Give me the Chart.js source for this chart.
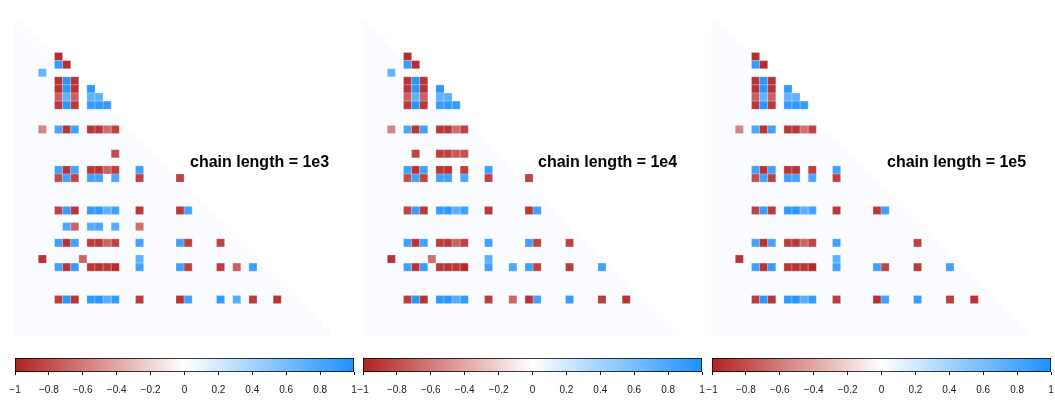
<!DOCTYPE html>
<html>
<head>
<meta charset="utf-8">
<script src="https://cdn.jsdelivr.net/npm/chart.js@4.4.0/dist/chart.umd.min.js"></script>
<style>
body{margin:0;background:#fff;width:1055px;height:400px;overflow:hidden;position:relative;font-family:"Liberation Sans",Arial,sans-serif;}
canvas{position:absolute;}
.lab{position:absolute;font-weight:bold;font-size:16px;line-height:16px;white-space:nowrap;color:#000;}
</style>
</head>
<body>
<canvas id="heat0" width="324" height="324" style="left:14px;top:12px"></canvas>
<canvas id="heat1" width="324" height="324" style="left:363px;top:12px"></canvas>
<canvas id="heat2" width="324" height="324" style="left:711px;top:12px"></canvas>
<canvas id="bar0" width="360" height="50" style="left:5px;top:350px"></canvas>
<canvas id="bar1" width="360" height="50" style="left:353px;top:350px"></canvas>
<canvas id="bar2" width="360" height="50" style="left:702px;top:350px"></canvas>
<div class="lab" style="left:190px;top:154px">chain length = 1e3</div>
<div class="lab" style="left:538px;top:154px">chain length = 1e4</div>
<div class="lab" style="left:887px;top:154px">chain length = 1e5</div>
<script>
// matrix size (parameters) and colour bar ticks
var nCells = 40;
var barTicks = [-1, -0.8, -0.6, -0.4, -0.2, 0, 0.2, 0.4, 0.6, 0.8, 1];

// cells: [row, col, correlation]
var cells1e3 = [
  [5,5,-0.95],
  [6,5,0.9],[6,6,-0.95],
  [7,3,0.68],
  [8,5,-0.92],[8,6,0.95],[8,7,-0.92],
  [9,5,-0.92],[9,6,0.95],[9,7,-0.92],[9,9,0.93],
  [10,5,-0.72],[10,6,0.7],[10,7,-0.72],[10,9,0.7],[10,10,0.72],
  [11,5,-0.9],[11,6,0.95],[11,7,-0.9],[11,9,0.9],[11,10,0.92],[11,11,0.9],
  [14,3,-0.55],[14,5,0.8],[14,6,-0.92],[14,7,0.85],[14,9,-0.9],[14,10,-0.9],[14,11,-0.65],[14,12,-0.85],
  [17,12,-0.8],
  [19,5,0.85],[19,6,-0.92],[19,7,0.85],[19,9,-0.9],[19,10,-0.92],[19,11,-0.7],[19,12,-0.88],[19,15,0.85],
  [20,5,-0.8],[20,6,0.85],[20,7,-0.85],[20,9,0.85],[20,10,0.85],[20,12,0.8],[20,15,-0.85],[20,20,-0.85],
  [24,5,-0.85],[24,6,0.9],[24,7,-0.9],[24,9,0.9],[24,10,0.92],[24,11,0.72],[24,12,0.85],[24,15,-0.9],[24,20,-0.9],[24,21,0.85],
  [26,6,0.8],[26,7,-0.7],[26,9,0.75],[26,10,0.8],[26,12,0.75],[26,15,-0.65],
  [28,5,0.85],[28,6,-0.92],[28,7,0.85],[28,9,-0.88],[28,10,-0.9],[28,11,-0.7],[28,12,-0.85],[28,15,0.85],[28,20,0.85],[28,21,-0.85],[28,25,-0.85],
  [30,3,-0.92],[30,8,-0.68],[30,15,0.7],
  [31,5,0.85],[31,6,-0.92],[31,7,0.9],[31,9,-0.9],[31,10,-0.92],[31,11,-0.9],[31,12,-0.97],[31,15,0.85],[31,20,0.85],[31,21,-0.85],[31,25,-0.88],[31,27,-0.72],[31,29,0.85],
  [35,5,-0.88],[35,6,0.95],[35,7,-0.92],[35,9,0.92],[35,10,0.95],[35,11,0.75],[35,12,0.9],[35,15,-0.88],[35,20,-0.92],[35,21,0.85],[35,25,0.9],[35,27,0.75],[35,29,-0.88],[35,32,-0.92]
];

var cells1e4 = [
  [5,5,-0.95],
  [6,5,0.9],[6,6,-0.95],
  [7,3,0.68],
  [8,5,-0.92],[8,6,0.95],[8,7,-0.92],
  [9,5,-0.92],[9,6,0.95],[9,7,-0.92],[9,9,0.93],
  [10,5,-0.72],[10,6,0.7],[10,7,-0.72],[10,9,0.7],[10,10,0.72],
  [11,5,-0.9],[11,6,0.95],[11,7,-0.9],[11,9,0.9],[11,10,0.92],[11,11,0.9],
  [14,3,-0.55],[14,5,0.8],[14,6,-0.92],[14,7,0.85],[14,9,-0.9],[14,10,-0.9],[14,11,-0.65],[14,12,-0.85],
  [17,6,-0.85],[17,9,-0.88],[17,10,-0.85],[17,11,-0.75],[17,12,-0.78],
  [19,5,0.85],[19,6,-0.92],[19,7,0.85],[19,9,-0.9],[19,10,-0.92],[19,12,-0.88],[19,15,0.85],
  [20,5,-0.8],[20,6,0.85],[20,7,-0.85],[20,9,0.85],[20,10,0.85],[20,12,0.8],[20,15,-0.85],[20,20,-0.85],
  [24,5,-0.85],[24,6,0.9],[24,7,-0.9],[24,9,0.9],[24,10,0.92],[24,11,0.72],[24,12,0.85],[24,15,-0.9],[24,20,-0.9],[24,21,0.85],
  [28,5,0.85],[28,6,-0.92],[28,7,0.85],[28,9,-0.88],[28,10,-0.9],[28,11,-0.7],[28,12,-0.85],[28,15,0.85],[28,20,0.85],[28,21,-0.85],[28,25,-0.85],
  [30,3,-0.92],[30,8,-0.65],[30,15,0.7],
  [31,5,0.85],[31,6,-0.92],[31,7,0.9],[31,9,-0.9],[31,10,-0.92],[31,11,-0.9],[31,12,-0.97],[31,15,0.85],[31,18,0.8],[31,20,0.85],[31,21,-0.85],[31,25,-0.88],[31,29,0.85],
  [35,5,-0.88],[35,6,0.95],[35,7,-0.92],[35,9,0.92],[35,10,0.95],[35,11,0.75],[35,12,0.9],[35,15,-0.88],[35,18,-0.68],[35,20,-0.92],[35,21,0.85],[35,25,0.9],[35,29,-0.88],[35,32,-0.92]
];

var cells1e5 = [
  [5,5,-0.95],
  [6,5,0.9],[6,6,-0.95],
  [8,5,-0.92],[8,6,0.95],[8,7,-0.92],
  [9,5,-0.92],[9,6,0.95],[9,7,-0.92],[9,9,0.93],
  [10,5,-0.72],[10,6,0.7],[10,7,-0.72],[10,9,0.7],[10,10,0.72],
  [11,5,-0.9],[11,6,0.95],[11,7,-0.9],[11,9,0.9],[11,10,0.92],[11,11,0.9],
  [14,3,-0.55],[14,5,0.8],[14,6,-0.92],[14,7,0.85],[14,9,-0.9],[14,10,-0.9],[14,11,-0.65],[14,12,-0.85],
  [19,5,0.85],[19,6,-0.92],[19,7,0.85],[19,9,-0.9],[19,10,-0.92],[19,12,-0.88],[19,15,0.85],
  [20,5,-0.8],[20,6,0.85],[20,7,-0.85],[20,9,0.85],[20,10,0.85],[20,12,0.8],[20,15,-0.85],
  [24,5,-0.85],[24,6,0.9],[24,7,-0.9],[24,9,0.9],[24,10,0.92],[24,11,0.72],[24,12,0.85],[24,15,-0.9],[24,20,-0.9],[24,21,0.85],
  [28,5,0.85],[28,6,-0.92],[28,7,0.85],[28,9,-0.88],[28,10,-0.9],[28,11,-0.7],[28,12,-0.85],[28,15,0.85],[28,25,-0.85],
  [30,3,-0.92],[30,15,0.7],
  [31,5,0.85],[31,6,-0.92],[31,7,0.9],[31,9,-0.9],[31,10,-0.92],[31,11,-0.9],[31,12,-0.97],[31,15,0.85],[31,20,0.85],[31,21,-0.85],[31,25,-0.88],[31,29,0.85],
  [35,5,-0.88],[35,6,0.95],[35,7,-0.92],[35,9,0.92],[35,10,0.95],[35,11,0.75],[35,12,0.9],[35,15,-0.88],[35,20,-0.92],[35,21,0.85],[35,25,0.9],[35,29,-0.88],[35,32,-0.92]
];

var panels = [cells1e3, cells1e4, cells1e5];

var negEnd = [178,34,34];   // firebrick
var posEnd = [30,144,255];  // dodgerblue

function cellColour(v){
  var a = Math.abs(v);
  var end = v < 0 ? negEnd : posEnd;
  var c = end.map(function(e){ return Math.round(255 + (e - 255) * a); });
  return 'rgb(' + c.join(',') + ')';
}

function cellRadius(ctx){
  var sx = ctx.chart.scales.x;
  if(!sx) return 5;
  var side = Math.abs(sx.getPixelForValue(1) - sx.getPixelForValue(0));
  return side / Math.SQRT2;
}

// staircase outline of the lower triangle (incl. diagonal)
var diagSteps = [];
for(var i = 0; i <= nCells; i++){ diagSteps.push({x:i, y:i}); }

panels.forEach(function(cells, p){
  new Chart(document.getElementById('heat' + p), {
    type: 'scatter',
    data: {
      datasets: [
        {
          type: 'line',
          data: diagSteps,
          stepped: 'after',
          fill: {value: nCells},
          backgroundColor: '#FBFCFF',
          borderWidth: 0,
          pointRadius: 0,
          order: 2
        },
        {
          data: cells.map(function(c){ return {x: c[1] + 0.5, y: c[0] + 0.5, v: c[2]}; }),
          pointStyle: 'rect',
          pointRadius: cellRadius,
          backgroundColor: function(ctx){ return ctx.raw ? cellColour(ctx.raw.v) : '#fff'; },
          borderColor: 'rgba(255,255,255,0.22)',
          borderWidth: 1,
          order: 1
        }
      ]
    },
    options: {
      responsive: false,
      animation: false,
      events: [],
      layout: {padding: 0},
      plugins: {legend: {display: false}, tooltip: {enabled: false}},
      scales: {
        x: {type: 'linear', min: 0, max: nCells, display: false},
        y: {type: 'linear', min: 0, max: nCells, reverse: true, display: false}
      }
    }
  });

  new Chart(document.getElementById('bar' + p), {
    type: 'bar',
    data: {
      labels: [''],
      datasets: [{
        data: [[-1, 1]],
        backgroundColor: function(ctx){
          var ca = ctx.chart.chartArea;
          if(!ca) return '#fff';
          var g = ctx.chart.ctx.createLinearGradient(ca.left, 0, ca.right, 0);
          g.addColorStop(0, 'rgb(178,34,34)');
          g.addColorStop(0.5, '#ffffff');
          g.addColorStop(1, 'rgb(30,144,255)');
          return g;
        },
        borderColor: '#000',
        borderWidth: 1,
        borderSkipped: false,
        barPercentage: 1,
        categoryPercentage: 1
      }]
    },
    options: {
      indexAxis: 'y',
      responsive: false,
      animation: false,
      events: [],
      layout: {padding: {left: 10, right: 11, top: 8, bottom: 4}},
      plugins: {legend: {display: false}, tooltip: {enabled: false}},
      scales: {
        x: {
          type: 'linear', min: -1, max: 1,
          afterBuildTicks: function(axis){ axis.ticks = barTicks.map(function(v){ return {value: v}; }); },
          afterFit: function(axis){ axis.height = 24; axis.paddingLeft = 0; axis.paddingRight = 0; },
          ticks: {
            autoSkip: false, maxRotation: 0, padding: 9, color: '#222',
            font: {size: 10, family: '"Liberation Sans", Arial, sans-serif'},
            callback: function(v){ return (v < 0 ? '\u2212' : '') + parseFloat(Math.abs(v).toFixed(1)); }
          },
          grid: {drawOnChartArea: false, drawTicks: true, tickLength: 3, color: '#000'},
          border: {display: false}
        },
        y: {display: false}
      }
    }
  });
});
</script>
</body>
</html>
